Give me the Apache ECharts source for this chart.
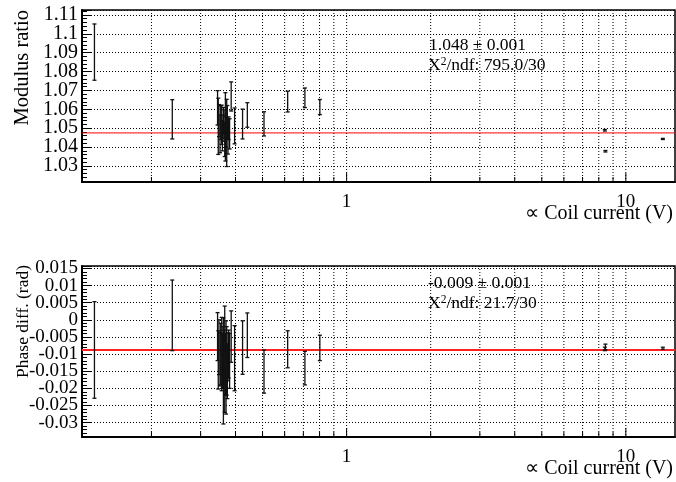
<!DOCTYPE html>
<html><head><meta charset="utf-8">
<script src="https://cdn.jsdelivr.net/npm/echarts@6/dist/echarts.min.js"></script>
<style>html,body{margin:0;padding:0;background:#fff}#c{width:676px;height:482px}</style>
</head><body><div id="c"></div>
<script>
// ---- data ----
const coilCurrent = [0.125, 0.2375, 0.345, 0.347, 0.349, 0.352, 0.354, 0.357, 0.359, 0.361, 0.362, 0.364, 0.366, 0.368, 0.370, 0.372, 0.374, 0.376, 0.378, 0.381, 0.386, 0.397, 0.424, 0.441, 0.506, 0.615, 0.709, 0.802, 8.41, 8.45, 13.57];
const modulusRatio = [1.0903, 1.0547, 1.0608, 1.0510, 1.0540, 1.0470, 1.0530, 1.0518, 1.0460, 1.0500, 1.0540, 1.0522, 1.0440, 1.0507, 1.0480, 1.0475, 1.0530, 1.0440, 1.0500, 1.0470, 1.0668, 1.0512, 1.0522, 1.0570, 1.0523, 1.0641, 1.0661, 1.0612, 1.0489, 1.0378, 1.0443];
const modulusErr = [0.0149, 0.0104, 0.0091, 0.0149, 0.0085, 0.0100, 0.0090, 0.0104, 0.0080, 0.0070, 0.0070, 0.0075, 0.0090, 0.0181, 0.0080, 0.0178, 0.0090, 0.0077, 0.0060, 0.0080, 0.0077, 0.0095, 0.0079, 0.0065, 0.0064, 0.0055, 0.0052, 0.0040, 0.0004, 0.0004, 0.0003];
const phaseDiff = [-0.0088, 0.0013, -0.0049, -0.0117, -0.0080, -0.0115, -0.0100, -0.0100, -0.0120, -0.0090, -0.0149, -0.0110, -0.0115, -0.0130, -0.0139, -0.0120, -0.0150, -0.0108, -0.0100, -0.0120, -0.0049, -0.0112, -0.0081, -0.0045, -0.0151, -0.0086, -0.0141, -0.0082, -0.0085, -0.0079, -0.0083];
const phaseErr = [0.0141, 0.0103, 0.0070, 0.0085, 0.0080, 0.0078, 0.0090, 0.0107, 0.0080, 0.0070, 0.0155, 0.0080, 0.0155, 0.0090, 0.0136, 0.0100, 0.0080, 0.0070, 0.0070, 0.0080, 0.0075, 0.0095, 0.0078, 0.0065, 0.0063, 0.0054, 0.0049, 0.0037, 0.0005, 0.0008, 0.0003];
const fitModulus = 1.0475;
const fitPhase = -0.0088;
const modulusFitText = ['1.048 \u00b1 0.001', '795.0/30'];
const phaseFitText = ['-0.009 \u00b1 0.001', '21.7/30'];
const xRange = [0.1128, 15];
const modulusRange = [1.0215, 1.1126];
const phaseRange = [-0.0342, 0.0157];
const xGridTicks = [0.2, 0.3, 0.4, 0.5, 0.6, 0.7, 0.8, 0.9, 1, 2, 3, 4, 5, 6, 7, 8, 9, 10];
const xMajorTicks = [1, 10];
const modulusTickStep = 0.01;
const phaseTickStep = 0.005;

// ---- chart ----
const FONT = 'Liberation Serif';
const chart = echarts.init(document.getElementById('c'), null, {renderer: 'canvas'});

function onStep(step) {
  return function (v) {
    const k = v / step;
    if (Math.abs(k - Math.round(k)) > 1e-6) return '';
    const r = Math.round(k) * step;
    return String(+r.toFixed(6));
  };
}
function decadeLabel(v) {
  const l = Math.log10(v);
  if (Math.abs(l - Math.round(l)) > 1e-6) return '';
  return String(+v.toPrecision(6));
}

function errRender(params, api) {
  const x = api.value(0), y = api.value(1), e = api.value(2);
  const a = api.coord([x, y + e]);
  const b = api.coord([x, y - e]);
  const cw = 2;
  const st = {stroke: '#111', lineWidth: 1.3};
  return {type: 'group', children: [
    {type: 'line', shape: {x1: a[0], y1: a[1], x2: b[0], y2: b[1]}, style: st},
    {type: 'line', shape: {x1: a[0] - cw, y1: a[1], x2: a[0] + cw, y2: a[1]}, style: st},
    {type: 'line', shape: {x1: b[0] - cw, y1: b[1], x2: b[0] + cw, y2: b[1]}, style: st}
  ]};
}
function gridRender(yRef) {
  return function (params, api) {
    const v = api.value(0);
    const p = api.coord([v, yRef]);
    const cs = params.coordSys;
    const major = xMajorTicks.indexOf(v) >= 0;
    const bottom = cs.y + cs.height;
    return {type: 'group', children: [
      {type: 'line', shape: {x1: p[0], y1: cs.y, x2: p[0], y2: bottom},
       style: {stroke: '#000', lineWidth: 1, lineDash: [1, 2]}},
      {type: 'line', shape: {x1: p[0], y1: bottom, x2: p[0], y2: bottom - (major ? 9 : 5)},
       style: {stroke: '#000', lineWidth: 1}}
    ]};
  };
}

function xAxisCfg(idx) {
  return {
    type: 'log', gridIndex: idx, min: xRange[0], max: xRange[1], logBase: 10,
    axisLine: {show: true, onZero: false, lineStyle: {color: '#000', width: 2}},
    axisTick: {show: false},
    splitLine: {show: false},
    axisLabel: {color: '#000', fontFamily: FONT, fontSize: 19, margin: 11, formatter: decadeLabel,
      showMinLabel: false, showMaxLabel: false}
  };
}
function yAxisCfg(idx, range, step, splitNumber, fs) {
  return {
    type: 'value', gridIndex: idx, min: range[0], max: range[1], splitNumber: splitNumber,
    axisLine: {show: true, onZero: false, lineStyle: {color: '#000', width: 2}},
    axisTick: {show: true, inside: true, length: 9, lineStyle: {color: '#000'}},
    minorTick: {show: true, splitNumber: 5, length: 5, lineStyle: {color: '#000'}},
    splitLine: {show: true, lineStyle: {color: '#000', width: 1, type: [1, 2]}},
    axisLabel: {color: '#000', fontFamily: FONT, fontSize: fs, margin: 4, formatter: onStep(step)}
  };
}

function statLine(x, y, text) {
  return {type: 'text', x: x, y: y,
    style: {text: text, fontFamily: FONT, fontSize: 17.5, fill: '#000', align: 'left', verticalAlign: 'middle'}};
}
function chiLine(x, y, value) {
  return {type: 'text', x: x, y: y,
    style: {text: '{a|X}{s|2}{a|/ndf: ' + value + '}', fontFamily: FONT, fontSize: 17.5, fill: '#000',
      align: 'left', verticalAlign: 'middle',
      rich: {a: {fontFamily: FONT, fontSize: 17.5, fill: '#000', verticalAlign: 'bottom'},
             s: {fontFamily: FONT, fontSize: 11.5, fill: '#000', verticalAlign: 'top'}}}};
}

const option = {
  animation: false,
  backgroundColor: '#fff',
  grid: [
    {left: 82, top: 10, width: 593, height: 172, show: true, borderColor: '#000', borderWidth: 1.5, backgroundColor: 'transparent'},
    {left: 82, top: 266, width: 593, height: 171, show: true, borderColor: '#000', borderWidth: 1.5, backgroundColor: 'transparent'}
  ],
  xAxis: [xAxisCfg(0), xAxisCfg(1)],
  yAxis: [yAxisCfg(0, modulusRange, modulusTickStep, 9, 20), yAxisCfg(1, phaseRange, phaseTickStep, 10, 19)],
  series: [
    {type: 'custom', xAxisIndex: 0, yAxisIndex: 0, z: 1, silent: true,
     renderItem: gridRender(modulusRange[0]), data: xGridTicks.map(v => [v, modulusRange[0]])},
    {type: 'custom', xAxisIndex: 1, yAxisIndex: 1, z: 1, silent: true,
     renderItem: gridRender(phaseRange[0]), data: xGridTicks.map(v => [v, phaseRange[0]])},
    {type: 'line', xAxisIndex: 0, yAxisIndex: 0, z: 3, symbol: 'none',
     lineStyle: {color: '#ff0000', width: 1},
     data: [[xRange[0], fitModulus], [xRange[1], fitModulus]]},
    {type: 'line', xAxisIndex: 1, yAxisIndex: 1, z: 3, symbol: 'none',
     lineStyle: {color: '#ff2020', width: 2},
     data: [[xRange[0], fitPhase], [xRange[1], fitPhase]]},
    {type: 'custom', xAxisIndex: 0, yAxisIndex: 0, z: 4, renderItem: errRender,
     data: coilCurrent.map((x, i) => [x, modulusRatio[i], modulusErr[i]])},
    {type: 'custom', xAxisIndex: 1, yAxisIndex: 1, z: 4, renderItem: errRender,
     data: coilCurrent.map((x, i) => [x, phaseDiff[i], phaseErr[i]])}
  ],
  graphic: [
    {type: 'text', x: 23, y: 10, rotation: Math.PI / 2,
     style: {text: 'Modulus ratio', fontFamily: FONT, fontSize: 20.5, fill: '#000', align: 'right', verticalAlign: 'middle'}},
    {type: 'text', x: 23, y: 265, rotation: Math.PI / 2,
     style: {text: 'Phase diff. (rad)', fontFamily: FONT, fontSize: 17.5, fill: '#000', align: 'right', verticalAlign: 'middle'}},
    {type: 'text', x: 673, y: 214,
     style: {text: '\u221d Coil current (V)', fontFamily: FONT, fontSize: 20, fill: '#000', align: 'right', verticalAlign: 'middle'}},
    {type: 'text', x: 673, y: 469,
     style: {text: '\u221d Coil current (V)', fontFamily: FONT, fontSize: 20, fill: '#000', align: 'right', verticalAlign: 'middle'}},
    statLine(429, 45, modulusFitText[0]),
    chiLine(428, 65, modulusFitText[1]),
    statLine(428, 283, phaseFitText[0]),
    chiLine(428, 303, phaseFitText[1])
  ]
};
chart.setOption(option);
</script>
</body></html>
